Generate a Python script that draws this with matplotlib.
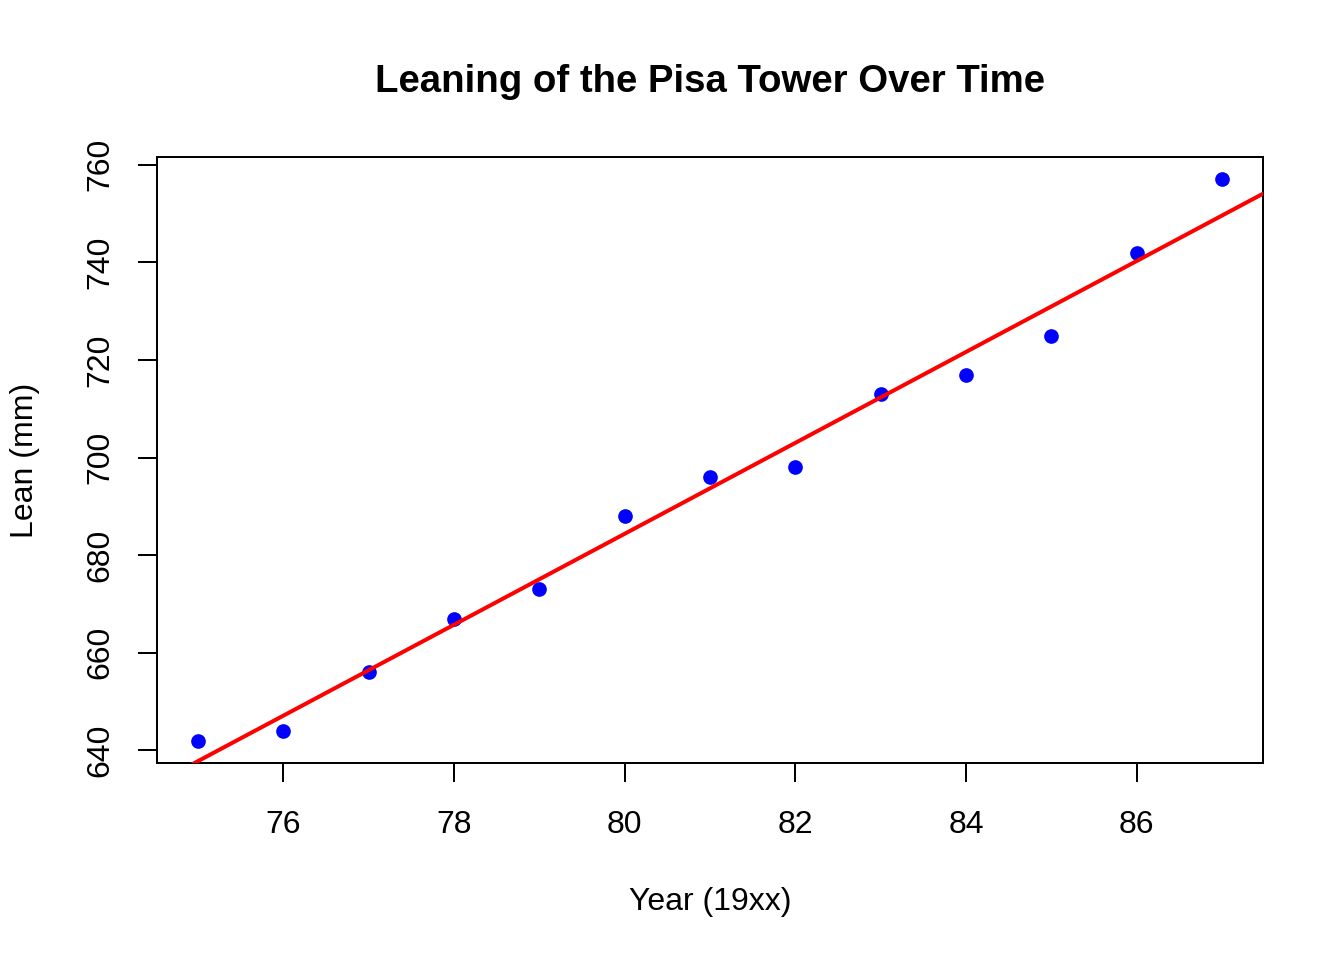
import numpy as np
import matplotlib
matplotlib.use("Agg")
import matplotlib.pyplot as plt

plt.rcParams['font.family'] = ['Liberation Sans', 'DejaVu Sans']

years = [75, 76, 77, 78, 79, 80, 81, 82, 83, 84, 85, 86, 87]
lean = [642, 644, 656, 667, 673, 688, 696, 698, 713, 717, 725, 742, 757]
xticks = [76, 78, 80, 82, 84, 86]
yticks = [640, 660, 680, 700, 720, 740, 760]

fig = plt.figure(figsize=(7, 5), dpi=192)
W, H = 1344, 960
l, r, t, b = 157, 1263, 157, 763
ax = fig.add_axes([l / W, 1 - b / H, (r - l) / W, (b - t) / H])

x = np.array(years, dtype=float)
y = np.array(lean, dtype=float)
xr = x.max() - x.min()
yr = y.max() - y.min()
xlim = (x.min() - 0.04 * xr, x.max() + 0.04 * xr)
ylim = (y.min() - 0.04 * yr, y.max() + 0.04 * yr)

ax.scatter(x, y, s=5.5**2, color='blue', zorder=3, linewidths=0)
slope, intercept = np.polyfit(x, y, 1)
xx = np.array(xlim)
ax.plot(xx, intercept + slope * xx, color='red', lw=1.5, zorder=4)

ax.set_xlim(*xlim)
ax.set_ylim(*ylim)
ax.set_xticks(xticks)
ax.set_yticks(yticks)
ax.tick_params(length=7.2, width=0.75, labelsize=12)
ax.tick_params(axis='x', pad=10.6)
ax.tick_params(axis='y', pad=8.5)
for lbl in ax.get_yticklabels():
    lbl.set_rotation(90)
    lbl.set_va('center')
for s in ax.spines.values():
    s.set_linewidth(0.75)

ax.set_xlabel('Year (19xx)', fontsize=12)
ax.set_ylabel('Lean (mm)', fontsize=12)
ax.xaxis.set_label_coords(0.5, (b - 902) / (b - t))
ax.xaxis.label.set_va('center')
ax.yaxis.set_label_coords((25 - l) / (r - l), 0.5)
ax.yaxis.label.set_va('center')
ax.text(0.5, (b - 82) / (b - t), 'Leaning of the Pisa Tower Over Time',
        transform=ax.transAxes, ha='center', va='center',
        fontsize=14.4, fontweight='bold')

fig.savefig('out.png', dpi=192)
